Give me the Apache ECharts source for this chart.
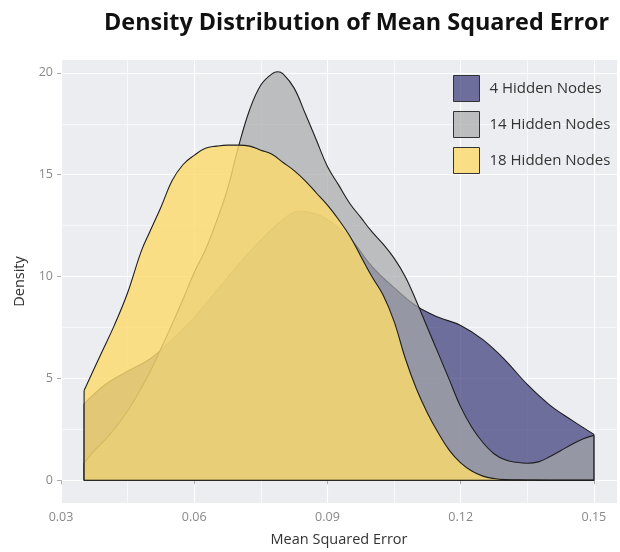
<!DOCTYPE html>
<html>
<head>
<meta charset="utf-8">
<script src="https://cdn.jsdelivr.net/npm/echarts@6/dist/echarts.min.js"></script>
<style>
  html, body { margin: 0; padding: 0; background: #ffffff; }
  #chart { width: 620px; height: 552px; }
</style>
</head>
<body>
<div id="chart"></div>
<script>
// Legend / series names
const seriesNames = ['4 Hidden Nodes', '14 Hidden Nodes', '18 Hidden Nodes'];

// Axis tick values
const xTicks = [0.03, 0.06, 0.09, 0.12, 0.15];
const yTicks = [0, 5, 10, 15, 20];

// Density estimate, 4 hidden nodes
const mse4 = [0.0352, 0.040, 0.045, 0.050, 0.055, 0.060, 0.065, 0.070, 0.075, 0.080,
  0.0835, 0.087, 0.090, 0.095, 0.100, 0.105, 0.110, 0.115, 0.120, 0.125,
  0.130, 0.135, 0.140, 0.145, 0.150];
const dens4 = [3.75, 4.7, 5.35, 5.95, 6.9, 8.0, 9.3, 10.6, 11.8, 12.8,
  13.2, 13.1, 12.8, 11.9, 10.5, 9.45, 8.55, 8.0, 7.6, 6.9,
  5.9, 4.7, 3.7, 2.95, 2.25];

// Density estimate, 14 hidden nodes
const mse14 = [0.0352, 0.0375, 0.040, 0.0425, 0.045, 0.0475, 0.050, 0.0525, 0.055, 0.0575,
  0.060, 0.0625, 0.065, 0.0675, 0.070, 0.0725, 0.075, 0.0775, 0.0788, 0.080,
  0.0825, 0.085, 0.0875, 0.090, 0.0925, 0.095, 0.0975, 0.100, 0.1025, 0.105,
  0.1075, 0.110, 0.1125, 0.115, 0.1175, 0.120, 0.1225, 0.125, 0.1275, 0.130,
  0.1325, 0.135, 0.1375, 0.140, 0.1425, 0.145, 0.1475, 0.150];
const dens14 = [0.83, 1.45, 2.0, 2.65, 3.4, 4.3, 5.3, 6.45, 7.65, 8.9,
  10.2, 11.3, 12.7, 14.3, 16.4, 18.2, 19.4, 19.95, 20.05, 19.95,
  19.25, 18.0, 16.7, 15.4, 14.5, 13.6, 12.9, 12.2, 11.6, 10.9,
  10.0, 8.8, 7.5, 6.2, 4.9, 3.6, 2.6, 1.85, 1.3, 1.0,
  0.88, 0.83, 0.9, 1.15, 1.45, 1.75, 2.02, 2.2];

// Density estimate, 18 hidden nodes
const mse18 = [0.0352, 0.039, 0.042, 0.045, 0.048, 0.050, 0.0525, 0.055, 0.0575, 0.060,
  0.0625, 0.065, 0.0675, 0.070, 0.0725, 0.075, 0.0775, 0.080, 0.0825, 0.085,
  0.0875, 0.090, 0.0925, 0.095, 0.0975, 0.100, 0.1025, 0.105, 0.1075, 0.110,
  0.1125, 0.115, 0.1175, 0.120, 0.1225, 0.125, 0.1275, 0.130, 0.135, 0.140, 0.150];
const dens18 = [4.4, 6.2, 7.6, 9.2, 11.2, 12.2, 13.4, 14.7, 15.5, 15.95,
  16.3, 16.4, 16.45, 16.45, 16.4, 16.2, 16.0, 15.6, 15.2, 14.7,
  14.1, 13.5, 12.8, 12.0, 11.0, 10.0, 9.1, 7.8, 6.0, 4.5,
  3.3, 2.3, 1.45, 0.85, 0.45, 0.2, 0.08, 0.03, 0.01, 0, 0];

// Styling
const fillColors = ['rgba(56,56,120,0.7)', 'rgba(168,168,168,0.7)', 'rgba(251,218,110,0.82)'];
const outline = '#1e1e1e';
const font = 'Open Sans';

const groups = [
  { xs: mse4, ys: dens4 },
  { xs: mse14, ys: dens14 },
  { xs: mse18, ys: dens18 }
];

// each group gets its own layer so later fills cover earlier outlines
const series = [];
groups.forEach((g, i) => {
  const pts = g.xs.map((x, k) => [x, g.ys[k]]);
  const last = g.xs.length - 1;
  series.push({
    name: seriesNames[i],
    type: 'line',
    data: pts,
    smooth: 0.4,
    symbol: 'none',
    lineStyle: { color: outline, width: 1.1 },
    itemStyle: { color: fillColors[i] },
    areaStyle: { color: fillColors[i], opacity: 1 },
    z: 3 + i
  });
  // closing edges of the density polygon (sides and baseline)
  series.push({
    name: 'edges-' + i,
    type: 'line',
    data: [[g.xs[0], g.ys[0]], [g.xs[0], 0], [g.xs[last], 0], [g.xs[last], g.ys[last]]],
    smooth: false,
    symbol: 'none',
    lineStyle: { color: outline, width: 1.1 },
    z: 3 + i
  });
});

const chart = echarts.init(document.getElementById('chart'), null, { renderer: 'canvas' });
chart.setOption({
  animation: false,
  backgroundColor: '#ffffff',
  title: {
    text: 'Density Distribution of Mean Squared Error',
    left: 99,
    top: 7,
    textStyle: { fontFamily: font, fontWeight: 'bold', fontSize: 23.4, color: '#111111' }
  },
  legend: {
    orient: 'vertical',
    left: 448,
    top: 70,
    icon: 'rect',
    itemWidth: 26,
    itemHeight: 26,
    itemGap: 9,
    selectedMode: false,
    z: 10,
    textStyle: { fontFamily: font, fontSize: 15, color: '#333333', padding: [0, 0, 0, 5] },
    data: seriesNames.map((n, i) => ({
      name: n,
      itemStyle: { color: fillColors[i], borderColor: '#333333', borderWidth: 1 }
    }))
  },
  grid: {
    left: 61, right: 3, top: 60, bottom: 45,
    show: true, backgroundColor: '#ebedf0', borderWidth: 0
  },
  xAxis: {
    type: 'value',
    min: 0.03,
    max: 0.1552,
    interval: 0.03,
    name: 'Mean Squared Error',
    nameLocation: 'middle',
    nameGap: 29,
    nameTextStyle: { fontFamily: font, fontSize: 14.5, color: '#333333' },
    axisLine: { show: false },
    axisTick: { show: true, length: 4, lineStyle: { color: '#aaaaaa' }, customValues: xTicks },
    axisLabel: { customValues: xTicks, margin: 8, fontFamily: font, fontSize: 12.5, color: '#888888' },
    splitLine: { show: true, lineStyle: { color: '#ffffff', width: 1.2 } },
    minorTick: { show: false, splitNumber: 2 },
    minorSplitLine: { show: true, lineStyle: { color: '#ffffff', width: 0.6 } }
  },
  yAxis: {
    type: 'value',
    min: -1.12,
    max: 20.63,
    name: 'Density',
    nameLocation: 'middle',
    nameGap: 27,
    nameTextStyle: { fontFamily: font, fontSize: 14.5, color: '#333333' },
    axisLine: { show: false },
    axisTick: { show: true, length: 4, lineStyle: { color: '#aaaaaa' }, customValues: yTicks },
    axisLabel: { customValues: yTicks, margin: 8, fontFamily: font, fontSize: 12.5, color: '#888888' },
    splitLine: { show: true, lineStyle: { color: '#ffffff', width: 1.2 } },
    minorTick: { show: false, splitNumber: 2 },
    minorSplitLine: { show: true, lineStyle: { color: '#ffffff', width: 0.6 } }
  },
  series: series
});
</script>
</body>
</html>
